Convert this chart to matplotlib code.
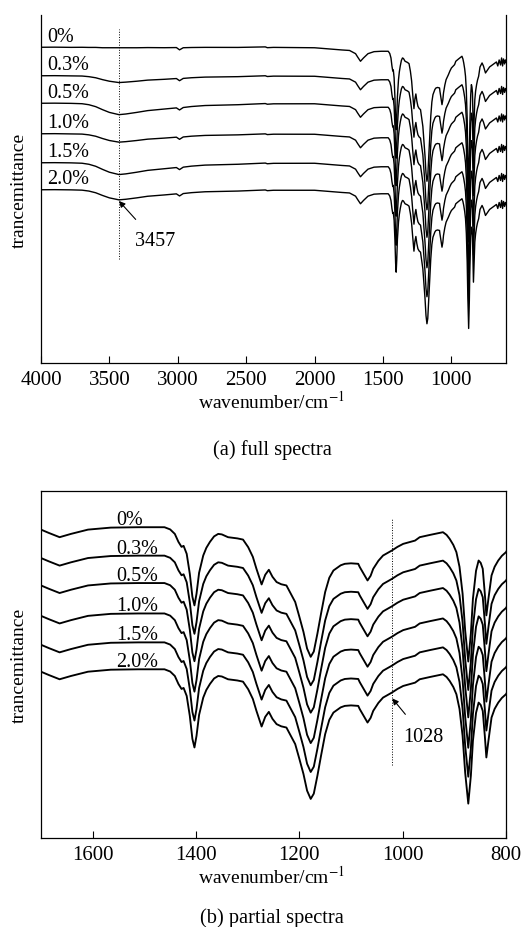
import numpy as np
import matplotlib
matplotlib.use('Agg')
import matplotlib.pyplot as plt

plt.rcParams['font.family'] = ['Liberation Serif', 'DejaVu Serif']
plt.rcParams['mathtext.fontset'] = 'stix'

labels = ['0%', '0.3%', '0.5%', '1.0%', '1.5%', '2.0%']
offsets = [0, 28.5, 56, 86.5, 115.5, 142.5]      # downward shift of each curve
oh_depth = [0.5, 6.7, 11.3, 8.3, 11.7, 10.0]     # depth of the broad O-H band

# 4000-1700 cm-1 : 0% curve and shape of the O-H band (1 = deepest)
hi_wn = [4000, 3900, 3780, 3700, 3650, 3600, 3550, 3500, 3430, 3380, 3300, 3220,
         3100, 3010, 2987, 2960, 2900, 2800, 2560, 2360, 2345, 2300, 2000, 1800, 1744]
hi_t0 = [315.7, 315.8, 315.6, 315.7, 315.6, 315.7, 315.5, 315.6, 315.6, 315.7, 315.6, 315.7,
         315.5, 315.6, 313.3, 315.4, 315.6, 315.7, 315.6, 316.1, 315.3, 315.6, 315.2, 313.0, 312.5]
hi_oh = [0, 0, 0, 0.04, 0.12, 0.3, 0.55, 0.8, 1.0, 0.95, 0.8, 0.65,
         0.5, 0.4, 0.38, 0.35, 0.28, 0.2, 0.12, 0.06, 0.05, 0.04, 0, 0, 0]

# 1700-808 cm-1 : 0% curve (fingerprint region, same as panel b)
fp_wn = [1700, 1685, 1664, 1642, 1609, 1565, 1512, 1461, 1450, 1441, 1434, 1428, 1424, 1418,
         1412, 1407, 1403, 1399, 1394, 1386, 1380, 1373, 1365, 1357, 1350, 1338, 1320, 1309,
         1299, 1290, 1283, 1273, 1266, 1259, 1252, 1244, 1235, 1225, 1208, 1200, 1192, 1185,
         1178, 1172, 1165, 1158, 1150, 1142, 1134, 1120, 1112, 1100, 1086, 1083, 1068, 1062,
         1057, 1047, 1038, 1021, 1010, 999, 976, 967, 947, 922, 915, 909, 902,
         896, 890, 884, 879, 873, 868, 864, 858, 853, 849, 845, 841, 838, 834, 828, 822, 815, 808]
fp_t0 = [309.3, 306, 301.7, 305, 309.3, 311.3, 311.7, 311.7, 309.5, 305, 297, 292, 293, 285,
         265, 242, 233.3, 245, 266, 283.3, 291, 297, 302.5, 305, 304.5, 301.7, 300.5, 299.3,
         291.7, 282, 270, 254.3, 264, 269, 262, 256.7, 254.5, 253.3, 236.7, 222, 206.7, 190,
         181.7, 187, 205, 225, 246.7, 261, 268.3, 273.5, 275, 275.5, 275, 271.7, 258.3, 263,
         270, 278, 283.3, 288.3, 292, 295, 298.3, 301.7, 304, 306.7, 304, 300, 294,
         286.7, 272, 245, 208, 177, 205, 240, 268, 278.3, 276, 270, 245, 223.3, 240, 263.3, 272,
         278.3, 283]

# 800-600 cm-1 : noisy tail, only in the full spectra
tl_wn = [800, 790, 775, 765, 750, 735, 720, 700, 680, 670, 660, 650, 640, 632,
         625, 618, 610, 604, 600]
tl_t0 = [286.7, 296, 300, 297, 290, 293, 296, 298, 300, 301, 297, 303, 298, 305,
         297, 304, 299, 303, 301]

wn = np.array(hi_wn + fp_wn + tl_wn, dtype=float)
t0 = np.array(hi_t0 + fp_t0 + tl_t0)
oh = np.array(hi_oh + [0] * (len(fp_wn) + len(tl_wn)))

fig = plt.figure(figsize=(5.25, 9.28), dpi=100)
axa = fig.add_axes([0.0781, 0.6078, 0.8857, 0.375])
axb = fig.add_axes([0.0781, 0.0959, 0.8857, 0.3739])

for i, lab in enumerate(labels):
    y = t0 - offsets[i] - oh_depth[i] * oh
    axa.plot(wn, y, color='black', lw=1.0)
    axb.plot(wn, y, color='black', lw=1.35)
    axa.text(3955, t0[0] - offsets[i] + 11, lab, fontsize=14.5, ha='left', va='center')
    axb.text(1555, fp_t0[0] - offsets[i] + 10, lab, fontsize=14.5, ha='left', va='center')

# panel (a)
axa.set_xlim(4000, 600)
axa.set_ylim(0, 348)
axa.set_xticks([4000, 3500, 3000, 2500, 2000, 1500, 1000])
axa.spines['top'].set_visible(False)
axa.vlines(3430, 104, 334, colors='black', linestyles=':', lw=0.7)
axa.annotate('3457', xy=(3430, 162), xytext=(3165, 122), fontsize=14.5, ha='center', va='center',
             arrowprops=dict(arrowstyle='-|>', color='black', lw=0.8, mutation_scale=9,
                             shrinkA=9, shrinkB=0))

# panel (b)
axb.set_xlim(1700, 800)
axb.set_ylim(0, 348)
axb.set_xticks([1600, 1400, 1200, 1000, 800])
axb.vlines(1020, 73, 320, colors='black', linestyles=':', lw=0.7)
axb.annotate('1028', xy=(1020, 140), xytext=(960, 102), fontsize=14.5, ha='center', va='center',
             arrowprops=dict(arrowstyle='-|>', color='black', lw=0.8, mutation_scale=9,
                             shrinkA=9, shrinkB=0))

for ax in (axa, axb):
    ax.set_yticks([])
    ax.tick_params(axis='x', direction='in', length=5, width=0.8, labelsize=15, pad=5)
    for s in ax.spines.values():
        s.set_linewidth(0.9)

fig.text(0.036, 0.795, 'trancemittance', rotation=90, fontsize=14, ha='center', va='center')
fig.text(0.036, 0.283, 'trancemittance', rotation=90, fontsize=14, ha='center', va='center')
fig.text(0.518, 0.5668, 'wavenumber/cm$^{-1}$', fontsize=14, ha='center', va='center')
fig.text(0.518, 0.5151, '(a) full spectra', fontsize=14.7, ha='center', va='center')
fig.text(0.518, 0.0550, 'wavenumber/cm$^{-1}$', fontsize=14, ha='center', va='center')
fig.text(0.518, 0.0110, '(b) partial spectra', fontsize=14.7, ha='center', va='center')

fig.savefig('out.png', dpi=100)
